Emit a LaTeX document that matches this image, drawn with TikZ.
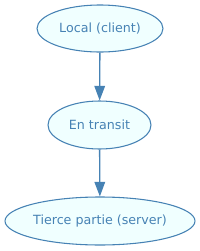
\documentclass[tikz,border=0pt]{standalone}
\usepackage{fontspec}
\setmainfont{DejaVu Sans}
\usetikzlibrary{arrows.meta,shapes.geometric}
\definecolor{edge}{HTML}{4682B4}
\definecolor{fillc}{HTML}{F0FFFF}
\tikzset{
  state/.style={ellipse, draw=edge, fill=fillc, line width=0.8pt, text=edge, font=\fontsize{9.5pt}{11pt}\selectfont, inner sep=0pt},
  conn/.style={draw=edge, line width=1pt, -{Triangle[length=11pt,width=8pt]}}
}
\begin{document}
\begin{tikzpicture}[x=0.75pt,y=-0.75pt]
\useasboundingbox (0,0) rectangle (200,251);
\node[state, minimum width=126*0.75pt, minimum height=47*0.75pt] (a) at (100,28.5) {Local (client)};
\node[state, minimum width=103*0.75pt, minimum height=48*0.75pt] (b) at (99.5,125) {En transit};
\node[state, minimum width=190*0.75pt, minimum height=48*0.75pt] (c) at (100,221) {Tierce partie (server)};
\draw[conn] (a) -- (b);
\draw[conn] (b) -- (c);
\end{tikzpicture}
\end{document}
